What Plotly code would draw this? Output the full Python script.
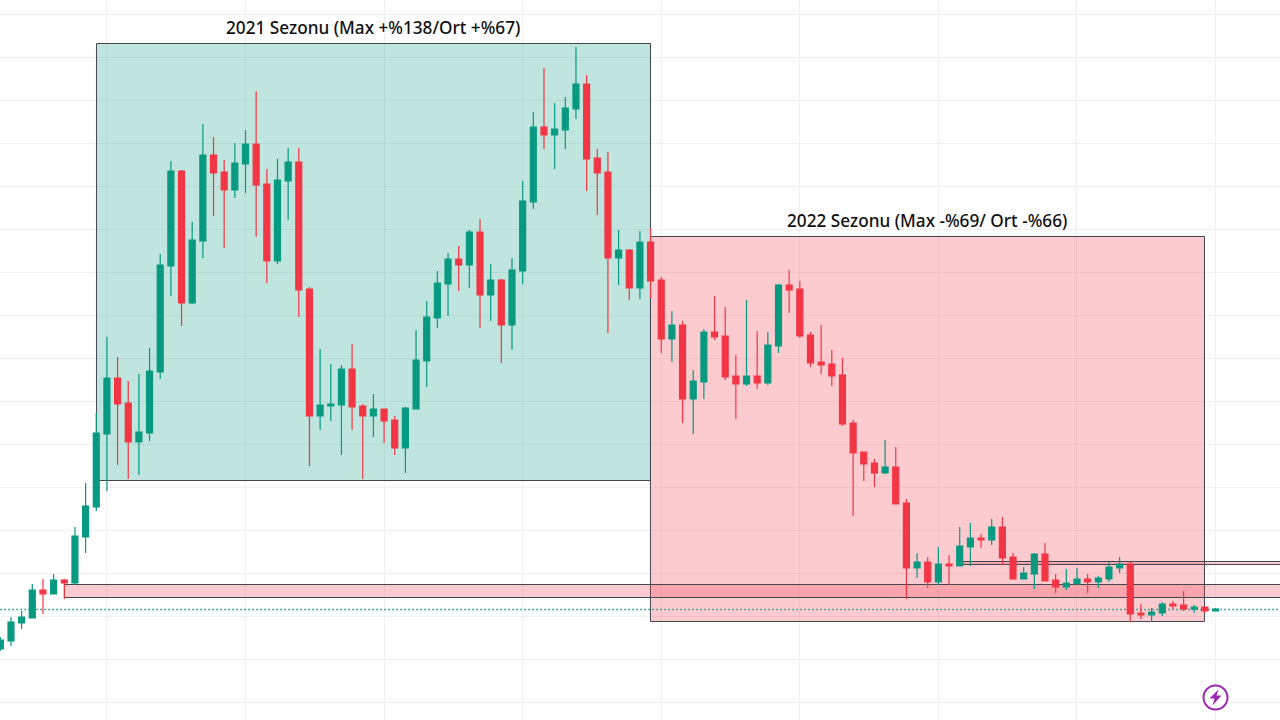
import plotly.graph_objects as go

# Candles, one per bar; prices (axis carries no labels).
bars = list(range(115))
opens = [71,79,97,102,130,126,140,137,183,213,286,342,317,278,287,348,454,549,417,479,565,548,530,556,576,536,459,539,558,431,304,314,315,351,314,304,311,300,272,311,359,402,436,461,455,488,425,440,395,449,518,593,585,590,611,636,562,548,462,470,432,478,440,381,395,321,338,388,384,344,336,344,337,374,435,431,385,358,356,345,297,268,257,247,253,217,152,158,138,156,154,173,182,180,193,163,141,146,166,140,133,136,141,138,141,152,156,107,105,107,116,115,111,113,109]
highs = [83,103,109,136,141,146,141,193,237,307,383,363,339,346,372,466,559,550,498,596,583,560,577,590,629,551,561,572,572,433,371,356,355,376,316,326,311,304,313,390,419,449,467,474,490,501,456,441,462,539,608,652,617,623,673,645,571,568,490,471,489,492,443,409,399,350,391,424,413,365,420,389,388,436,450,439,388,395,370,362,300,268,261,280,273,221,167,163,173,165,193,197,186,201,203,167,153,167,177,146,151,152,146,144,158,163,158,116,112,118,119,129,115,113,112]
lows = [69,74,91,102,106,126,121,135,167,209,229,255,241,245,279,341,424,394,416,462,504,472,522,527,483,437,456,500,403,254,290,299,265,290,241,283,277,265,247,311,333,392,404,429,432,392,399,357,370,436,511,571,551,571,601,529,505,387,435,420,421,422,367,358,297,286,321,380,340,301,334,331,335,367,407,382,353,346,334,294,204,239,233,246,216,121,142,132,135,135,154,154,172,175,155,141,141,131,139,127,130,136,127,132,138,147,98,101,98,104,111,109,107,107,109]
closes = [80,98,103,130,126,140,137,184,214,287,342,316,278,288,349,455,549,417,480,565,547,530,557,576,535,459,540,558,430,304,315,316,351,313,304,311,299,272,312,360,403,437,461,455,488,425,440,395,450,519,593,585,591,612,636,561,547,462,470,432,478,439,381,395,321,339,388,383,343,336,344,337,375,435,430,384,357,355,344,296,267,256,247,253,216,152,158,138,156,154,174,182,180,193,162,141,147,166,139,133,137,141,138,142,153,156,106,105,108,116,114,111,113,109,111]

last_price = 110.5
grid_price_start = 103.7
grid_price_step = 43
grid_bar_start = 10
grid_bar_step = 13

# Drawn zones: bar from, bar to, price low, price high, fill
zone_labels = ["2021 Sezonu (Max +%138/Ort +%67)", "2022 Sezonu (Max -%69/ Ort -%66)"]
zone_label_bars = [35.0, 86.95]
zone_label_prices = [693, 500]
season_bars = [(9.02, 60.99), (60.99, 112.96)]
season_prices = [(239.5, 676.5), (98.5, 483.5)]
season_fills = ["rgba(8,153,129,0.26)", "rgba(242,54,69,0.26)"]
band_bars = [(6.02, 125), (90.28, 125)]
band_prices = [(122.5, 135.5), (155.5, 158.5)]

GREEN = "#089981"
RED = "#F23645"
EDGE = "#434651"
GRID = "#F1F1F3"
BAR_PX = 10.66
X_START = -0.03

fig = go.Figure(go.Candlestick(
    x=bars, open=opens, high=highs, low=lows, close=closes,
    whiskerwidth=0,
    increasing=dict(line=dict(color=GREEN, width=1.2), fillcolor=GREEN),
    decreasing=dict(line=dict(color=RED, width=1.2), fillcolor=RED),
    hoverinfo="skip", showlegend=False,
))

for (x0, x1), (y0, y1), fill in zip(season_bars, season_prices, season_fills):
    fig.add_shape(type="rect", x0=x0, x1=x1, y0=y0, y1=y1, layer="between",
                  fillcolor=fill, line=dict(color=EDGE, width=1))
for (x0, x1), (y0, y1) in zip(band_bars, band_prices):
    fig.add_shape(type="rect", x0=x0, x1=x1, y0=y0, y1=y1, layer="between",
                  fillcolor=season_fills[1], line=dict(color=EDGE, width=1))
fig.add_shape(type="line", x0=0, x1=125, y0=last_price, y1=last_price, layer="between",
              line=dict(color=GREEN, width=1.5, dash="1.5px,2.5px"))

for text, x, y in zip(zone_labels, zone_label_bars, zone_label_prices):
    fig.add_annotation(text=text, x=x, y=y, showarrow=False, xanchor="center", yanchor="middle",
                       font=dict(family="Noto Sans", size=17.2, color="#111111", weight=500))

# Small badge at the lower right corner of the page
cx, cy = 1215.5 / 1280, 1 - 697.5 / 720
rx, ry = 12 / 1280, 12 / 720
fig.add_shape(type="circle", xref="paper", yref="paper", x0=cx - rx, x1=cx + rx, y0=cy - ry, y1=cy + ry,
              line=dict(color="#9C27B0", width=2), fillcolor="white", layer="above")
bolt = [(3, -8), (-6, 1), (-1, 1), (-3, 8), (6, -2), (1, -2), (3, -8)]
path = "M " + " L ".join(f"{cx + a / 1280:.5f},{cy - b / 720:.5f}" for a, b in bolt) + " Z"
fig.add_shape(type="path", xref="paper", yref="paper", path=path, fillcolor="#9C27B0",
              line=dict(width=0), layer="above")

fig.update_layout(
    width=1280, height=720, margin=dict(l=0, r=0, t=0, b=0),
    paper_bgcolor="white", plot_bgcolor="white",
    boxgap=0.2, showlegend=False,
    xaxis=dict(range=[X_START, X_START + 1280 / BAR_PX], rangeslider=dict(visible=False), showticklabels=False,
               tick0=grid_bar_start, dtick=grid_bar_step, showgrid=True, gridcolor=GRID, gridwidth=1,
               zeroline=False, showline=False, ticks=""),
    yaxis=dict(range=[0, 720], showticklabels=False, tick0=grid_price_start, dtick=grid_price_step,
               showgrid=True, gridcolor=GRID, gridwidth=1, zeroline=False, showline=False, ticks=""),
)

fig.write_html("out.html", config=dict(displayModeBar=False),
               post_script="document.body.style.margin='0';document.body.style.overflow='hidden';")
